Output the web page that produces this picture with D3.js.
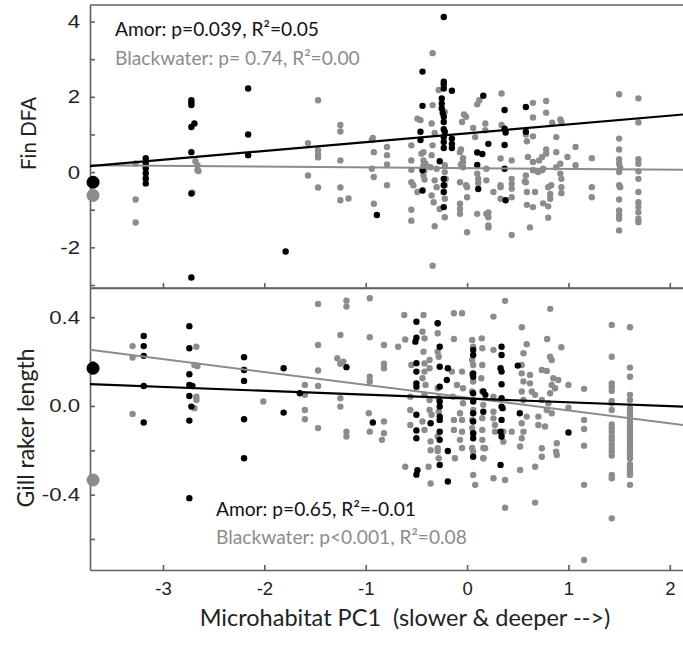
<!DOCTYPE html>
<html>
<head>
<meta charset="utf-8">
<script src="https://cdn.jsdelivr.net/npm/d3@7"></script>
<style>
  body { margin: 0; background: #fff; }
  svg { display: block; }
  .axis path, .axis line { stroke: #606060; stroke-width: 1.6; }
  .axis text { font-family: "Liberation Sans", Arial, sans-serif; font-size: 18.5px; fill: #222; }
  .lbl { font-family: Lato, "Open Sans", sans-serif; }
</style>
</head>
<body>
<div id="chart"></div>
<script>
// ---------------- DATA

var xTicks = [-3, -2, -1, 0, 1, 2];
var finTicks = [-3, -2, -1, 0, 1, 2, 3, 4];
var finLabels = [-2, 0, 2, 4];
var gillTicks = [-0.6, -0.4, -0.2, 0, 0.2, 0.4];
var gillLabels = [-0.4, 0, 0.4];

// regression lines: value at left edge and right edge of the x range
var fitX = [-3.72, 2.13];
var finAmorFit = [0.16, 1.53];
var finBlackFit = [0.18, 0.06];
var gillAmorFit = [0.098, -0.003];
var gillBlackFit = [0.253, -0.086];

// population means drawn at left edge (Amor, Blackwater)
var meanX = -3.69;
var finMeans = [-0.27, -0.62];
var gillMeans = [0.17, -0.334];

// Fin DFA, Amor
var finAmor = [
[-3.17,0.37],[-3.17,0.23],[-3.17,0.10],[-3.17,-0.03],[-3.17,-0.17],[-3.17,-0.30],
[-2.72,1.91],[-2.72,1.84],[-2.72,1.78],[-2.69,1.29],[-2.72,1.20],[-2.72,0.53],[-2.72,-0.57],[-2.72,-2.80],
[-2.16,2.22],[-2.16,1.00],[-2.16,0.45],
[-1.79,-2.11],[-0.89,-1.14],
[-0.44,2.67],[-0.44,1.76],[-0.46,1.07],[-0.46,0.85],[-0.44,0.05],[-0.44,-0.49],
[-0.23,4.12],[-0.23,2.40],[-0.23,2.33],[-0.23,2.22],[-0.25,1.96],[-0.25,1.82],[-0.25,1.69],[-0.24,1.57],
[-0.23,1.47],[-0.23,1.33],[-0.23,1.14],[-0.22,1.07],[-0.23,0.93],[-0.23,0.80],[-0.23,0.64],[-0.27,0.29],
[-0.23,-0.18],[-0.23,-0.35],[-0.23,-0.53],[-0.23,-0.93],
[-0.15,2.16],[-0.15,0.89],[-0.15,0.75],[-0.15,0.64],
[0.16,2.03],[0.10,0.52],[0.15,0.48],[0.10,0.19],[0.11,-0.45],[0.21,0.75],
[0.37,1.65],[0.37,1.15],[0.38,1.05],[0.37,0.72],[0.37,0.09],[0.38,-0.75],
[0.58,1.73],[0.58,1.07]
];

// Fin DFA, Blackwater
var finBlack = [
[-3.27,0.23],[-3.27,-0.73],[-3.27,-1.34],
[-2.68,0.29],[-2.66,0.18],[-2.66,0.05],[-2.65,0.03],[-2.71,-0.55],
[-1.57,0.77],[-1.57,-0.09],
[-1.47,1.91],[-1.47,0.58],[-1.47,0.47],[-1.47,0.39],[-1.47,-0.41],
[-1.25,1.25],[-1.25,1.08],[-1.25,0.31],[-1.25,-0.41],[-1.25,-0.75],[-1.17,-0.70],
[-0.93,0.91],[-0.94,0.85],[-0.92,0.53],[-0.94,0.09],[-0.92,-0.13],[-0.92,-0.84],
[-0.79,0.67],[-0.79,0.45],[-0.79,0.20],[-0.79,-0.35],
[-0.55,0.71],[-0.55,0.31],[-0.55,0.06],[-0.55,-0.27],[-0.53,-0.35],[-0.55,-1.00],[-0.55,-1.29],
[-0.49,1.42],[-0.46,1.38],[-0.49,-0.53],[-0.45,0.49],
[-0.43,0.53],[-0.43,0.31],[-0.41,0.22],[-0.43,0.18],[-0.42,0.05],[-0.43,-0.09],[-0.42,-0.20],[-0.36,0.13],
[-0.34,3.16],[-0.34,1.78],[-0.35,1.29],[-0.32,1.04],[-0.34,0.71],[-0.35,0.45],[-0.30,0.09],[-0.32,-0.22],
[-0.30,-0.40],[-0.35,-0.62],[-0.33,-0.80],[-0.27,-0.98],[-0.32,-1.44],[-0.34,-2.49],
[-0.28,2.18],
[-0.22,1.60],[-0.22,0.18],[-0.22,0.00],[-0.21,-0.18],[-0.22,-0.35],[-0.22,-0.71],[-0.22,-1.20],
[-0.03,1.53],[-0.01,1.47],[-0.05,1.33],[-0.06,0.60],[-0.07,0.53],[-0.04,0.37],[-0.04,0.27],[-0.06,0.20],
[-0.04,0.13],[-0.07,-0.27],[-0.01,-0.35],[-0.07,-0.84],[-0.07,-0.98],[-0.07,-1.11],[0.00,-0.40],[0.00,-0.67],[0.00,-1.60],
[0.06,1.17],[0.08,0.93],[0.10,1.80],[0.12,1.91],[0.10,-0.04],[0.11,-0.18],[0.11,-0.29],[0.10,-1.11],
[0.19,-1.11],[0.21,-1.42],[0.21,-1.07],[0.21,-1.20],[0.21,-1.47],
[0.18,1.29],[0.18,1.11],[0.34,2.09],[0.34,1.25],[0.33,0.36],[0.44,0.31],
[0.19,0.09],[0.19,-0.22],[0.26,-0.53],[0.33,-0.40],[0.33,-0.71],[0.33,-0.35],
[0.44,-0.18],[0.44,-0.31],[0.44,-0.44],[0.44,-0.67],[0.44,-1.67],
[0.58,1.00],[0.59,0.82],[0.58,-0.09],[0.57,-0.25],[0.60,0.40],[0.58,-0.27],
[0.65,1.84],[0.65,1.45],[0.65,0.95],[0.65,0.27],[0.65,0.05],[0.70,0.00],[0.74,0.05],[0.74,0.40],[0.71,0.31],[0.75,0.09],
[0.78,1.89],[0.78,1.58],[0.78,0.60],[0.78,0.49],[0.84,1.31],[0.92,1.40],[0.93,1.33],
[0.88,0.93],[0.88,0.53],[0.88,0.13],[0.92,0.22],[0.99,0.40],[1.07,0.67],[1.07,0.18],
[0.59,-0.53],[0.59,-0.87],[0.67,-0.53],[0.65,-0.93],[0.62,-1.47],
[0.75,-0.83],[0.80,-0.91],[0.80,-1.21],[0.80,-0.40],[0.82,-0.58],[0.82,-0.71],
[0.83,-0.35],[0.92,-0.04],[0.93,-0.18],[0.93,-0.40],[0.93,-0.56],
[1.23,0.37],[1.23,-0.40],[1.23,-0.67],
[1.50,2.07],[1.50,0.89],[1.50,0.60],[1.50,0.34],[1.50,0.22],[1.51,0.12],[1.50,0.00],[1.50,-0.35],
[1.51,-0.40],[1.50,-0.73],[1.50,-1.02],[1.50,-1.14],[1.50,-1.24],[1.50,-1.55],
[1.69,1.96],[1.69,1.32],[1.69,0.34],[1.69,0.22],[1.69,0.02],[1.69,-0.18],[1.69,-0.53],[1.69,-0.80],
[1.69,-0.93],[1.69,-1.07],[1.69,-1.24],[1.69,-1.33]
];

// Gill raker length, Amor
var gillAmor = [
[-3.19,0.316],[-3.19,0.27],[-3.19,0.226],[-3.19,0.09],[-3.19,-0.075],
[-2.74,0.36],[-2.74,0.26],[-2.74,0.143],[-2.74,0.095],[-2.71,0.09],[-2.74,0.045],[-2.72,-0.003],[-2.74,-0.066],[-2.74,-0.416],
[-2.2,0.22],[-2.2,0.162],[-2.2,0.113],[-2.2,-0.06],[-2.2,-0.236],
[-1.81,0.17],[-1.81,-0.03],[-1.65,0.057],[-1.19,0.175],[-0.93,-0.075],
[-0.5,0.38],[-0.5,0.308],[-0.51,0.29],[-0.5,0.193],[-0.5,0.155],[-0.5,0.102],[-0.5,0.087],[-0.36,-0.078],
[-0.5,-0.04],[-0.5,-0.111],[-0.5,-0.146],[-0.49,-0.29],[-0.5,-0.31],
[-0.29,0.373],[-0.27,0.267],[-0.27,0.177],[-0.27,0.087],[-0.27,0.02],[-0.27,-0.003],[-0.27,-0.048],[-0.27,-0.063],
[-0.27,-0.116],[-0.27,-0.153],[-0.27,-0.266],
[-0.19,0.17],[-0.2,0.117],[-0.19,-0.203],[-0.19,-0.341],
[0.06,0.253],[0.06,0.23],[0.06,0.147],[0.06,0.132],[0.06,0.057],[0.06,0.02],[0.06,-0.033],[0.06,-0.07],
[0.06,-0.123],[0.06,-0.146],[0.06,-0.229],
[0.18,0.05],[0.16,0.065],[0.16,-0.026],
[0.34,0.267],[0.34,0.23],[0.33,0.17],[0.34,0.155],[0.34,0.098],[0.34,0.035],[0.34,-0.003],[0.35,-0.01],
[0.34,-0.063],[0.33,-0.116],[0.34,-0.138],[0.33,-0.266],
[0.5,0.182],[0.52,-0.033],[1.0,-0.12]
];

// Gill raker length, Blackwater
var gillBlack = [
[-3.3,0.27],[-3.3,0.218],[-3.3,-0.036],
[-2.67,0.267],[-2.69,0.185],[-2.66,0.18],[-2.67,0.042],[-2.67,0.027],[-2.69,-0.01],
[-2.2,0.162],[-2.01,0.02],
[-1.6,0.095],[-1.6,0.05],[-1.6,-0.018],[-1.6,-0.06],
[-1.47,0.46],[-1.47,0.275],[-1.47,0.16],[-1.47,0.09],[-1.47,-0.1],
[-1.25,0.32],[-1.28,0.215],[-1.25,0.19],[-1.22,0.2],[-1.25,0.035],[-1.25,-0.003],
[-1.19,0.475],[-1.19,0.448],[-1.19,-0.116],[-1.19,-0.138],
[-0.96,0.486],[-0.96,0.31],[-0.96,0.132],[-0.96,0.11],[-0.97,-0.033],[-0.96,-0.116],
[-0.82,0.275],[-0.82,0.19],[-0.82,0.17],[-0.82,-0.07],[-0.82,-0.123],[-0.84,-0.153],
[-0.68,0.267],[-0.61,0.3],[-0.62,0.41],[-0.61,-0.274],
[-0.55,0.185],[-0.56,0.042],[-0.56,-0.018],[-0.56,-0.086],
[-0.43,0.41],[-0.44,0.335],[-0.42,0.305],[-0.43,0.245],[-0.37,0.207],[-0.42,0.192],[-0.42,0.155],[-0.37,0.17],
[-0.44,0.125],[-0.41,0.095],[-0.42,0.05],[-0.37,0.027],[-0.37,-0.018],[-0.35,-0.04],[-0.44,-0.07],[-0.42,-0.108],
[-0.36,-0.16],[-0.36,-0.2],[-0.38,-0.274],[-0.36,-0.35],
[-0.29,0.373],[-0.29,0.328],[-0.29,0.245],[-0.28,0.222],[-0.29,0.08],[-0.28,0.035],[-0.28,-0.026],
[-0.29,-0.138],[-0.29,-0.191],[-0.29,-0.203],[-0.28,-0.236],
[-0.13,0.418],[-0.05,0.418],
[-0.13,0.302],[-0.15,0.155],[-0.1,0.095],[-0.14,0.042],[-0.13,-0.063],[-0.13,-0.108],[-0.07,-0.153],[-0.12,-0.236],
[-0.05,0.155],[-0.04,0.08],[-0.04,0.012],[-0.07,-0.033],[-0.05,-0.063],[-0.05,-0.116],[-0.05,-0.19],
[0.05,0.298],[0.06,0.267],[0.05,0.207],[0.06,0.185],[0.05,0.143],[0.06,0.11],[0.05,0.065],[0.06,0.027],
[0.06,-0.018],[0.05,-0.063],[0.05,-0.1],[0.06,-0.123],[0.05,-0.19],[0.06,-0.206],[0.06,-0.311],[0.08,-0.356],
[0.145,0.305],[0.15,0.26],[0.15,0.185],[0.14,0.125],[0.15,0.065],[0.16,0.005],[0.15,-0.055],[0.15,-0.108],
[0.15,-0.153],[0.16,-0.19],[0.16,-0.236],
[0.375,0.474],[0.26,0.403],[0.82,0.438],[0.54,0.355],[0.79,0.302],[0.93,0.265],
[0.556,0.238],[0.588,0.278],[0.539,0.185],[0.539,0.147],[0.621,0.14],[0.556,0.11],[0.621,0.102],[0.539,0.065],
[0.638,0.065],[0.671,0.05],[0.556,0.027],[0.737,0.162],[0.786,0.158],[0.835,0.207],[0.819,0.222],[0.851,0.125],
[0.9,0.117],[0.835,0.095],[0.868,0.08],[0.819,0.057],[0.737,0.027],[0.802,0.012],[0.786,-0.018],[0.835,-0.033],
[0.703,-0.048],[0.588,-0.048],[0.539,-0.078],[0.556,-0.116],[0.539,-0.146],[0.703,-0.086],[0.769,-0.093],
[0.523,-0.183],[0.737,-0.191],[0.737,-0.229],[0.885,-0.168],[0.878,-0.206],[0.885,-0.221],[0.523,-0.289],
[0.671,-0.274],[0.375,-0.334],[0.26,-0.326],[0.375,-0.459],[0.671,-0.436],
[0.26,0.253],[0.26,0.042],[0.26,-0.026],[0.26,-0.056],[0.275,-0.086],[0.275,-0.116],[0.178,-0.191],
[0.161,-0.236],[0.358,-0.161],[0.358,-0.116],[0.44,-0.116],
[1.0,0.095],[1.0,-0.008],[1.154,0.077],[1.154,-0.063],[1.154,-0.104],[1.154,-0.179],[1.154,-0.356],[1.154,-0.695],
[1.427,0.365],[1.427,0.222],[1.427,0.102],[1.427,0.087],[1.427,0.068],[1.427,0.023],[1.427,0.012],[1.427,-0.018],
[1.427,-0.083],[1.427,-0.098],[1.427,-0.116],[1.427,-0.138],[1.427,-0.153],[1.427,-0.173],[1.427,-0.191],
[1.427,-0.206],[1.427,-0.224],[1.427,-0.311],[1.427,-0.326],[1.427,-0.507],
[1.607,0.355],[1.607,0.173],[1.607,0.132],[1.607,0.05],[1.607,0.027],[1.607,-0.01],[1.607,-0.026],[1.607,-0.041],
[1.607,-0.055],[1.607,-0.071],[1.607,-0.086],[1.607,-0.101],[1.607,-0.116],[1.607,-0.131],[1.607,-0.146],
[1.607,-0.161],[1.607,-0.176],[1.607,-0.191],[1.607,-0.206],[1.607,-0.221],[1.607,-0.236],[1.607,-0.263],
[1.607,-0.281],[1.607,-0.296],[1.607,-0.311],[1.607,-0.356]
];

// ---------------- LAYOUT

var W = 683, H = 645;
var left = 90, right = 683;
var topPanel = {y0: 5, y1: 288};
var botPanel = {y0: 288, y1: 570};
var blackCol = "#000000", greyCol = "#8c8c8c";
var yLabelStretch = 1.2;   // y tick labels are wider in the original

var svg = d3.select("#chart").append("svg")
    .attr("width", W)
    .attr("height", H);

var x = d3.scaleLinear().domain([-3.72, 2.13]).range([left, right]);
var yFin = d3.scaleLinear().domain([-3.08, 4.44]).range([topPanel.y1, topPanel.y0]);
var yGill = d3.scaleLinear().domain([-0.74, 0.532]).range([botPanel.y1, botPanel.y0]);

// plain hyphen minus, like the original
function fmtInt(d){ return String(d); }
function fmtOne(d){ return d.toFixed(1); }

function drawPanel(y, p, yTicks, yLabels, fmt, amor, black, amorFit, blackFit, means, showX) {
  var g = svg.append("g");

  // axes, ticks pointing inward
  var yAxis = d3.axisLeft(y)
      .tickValues(yTicks)
      .tickSize(-5)
      .tickSizeOuter(0)
      .tickPadding(10)
      .tickFormat(function(d){
        var lab = yLabels.some(function(v){ return Math.abs(v - d) < 1e-9; });
        return lab ? fmt(Math.abs(d) < 1e-9 ? 0 : d) : "";
      });
  var ya = g.append("g").attr("class", "axis")
      .attr("transform", "translate(" + left + ",0)")
      .call(yAxis);
  ya.selectAll(".tick text")
      .attr("x", -10 / yLabelStretch)
      .attr("transform", "scale(" + yLabelStretch + ",1)");

  var xAxis = d3.axisBottom(x)
      .tickValues(xTicks)
      .tickSize(-5)
      .tickSizeOuter(0)
      .tickPadding(12)
      .tickFormat(showX ? fmtInt : function(){ return ""; });
  g.append("g").attr("class", "axis")
      .attr("transform", "translate(0," + p.y1 + ")")
      .call(xAxis);

  // top frame line
  g.append("line")
      .attr("x1", left).attr("x2", right)
      .attr("y1", p.y0).attr("y2", p.y0)
      .attr("stroke", "#606060").attr("stroke-width", 1.6);

  // points
  g.selectAll("circle.bw").data(black).enter().append("circle")
      .attr("class", "bw")
      .attr("cx", function(d){ return x(d[0]); })
      .attr("cy", function(d){ return y(d[1]); })
      .attr("r", 3.2)
      .attr("fill", greyCol);
  g.selectAll("circle.am").data(amor).enter().append("circle")
      .attr("class", "am")
      .attr("cx", function(d){ return x(d[0]); })
      .attr("cy", function(d){ return y(d[1]); })
      .attr("r", 3.2)
      .attr("fill", blackCol);

  // regression lines
  var line = d3.line()
      .x(function(d){ return x(d[0]); })
      .y(function(d){ return y(d[1]); });
  g.append("path")
      .attr("d", line(fitX.map(function(v, i){ return [v, blackFit[i]]; })))
      .attr("fill", "none").attr("stroke", greyCol).attr("stroke-width", 2);
  g.append("path")
      .attr("d", line(fitX.map(function(v, i){ return [v, amorFit[i]]; })))
      .attr("fill", "none").attr("stroke", blackCol).attr("stroke-width", 2.2);

  // means at the left edge
  g.selectAll("circle.mean").data(means).enter().append("circle")
      .attr("class", "mean")
      .attr("cx", x(meanX))
      .attr("cy", function(d){ return y(d); })
      .attr("r", 6.5)
      .attr("fill", function(d, i){ return i === 0 ? blackCol : greyCol; });
  return g;
}

drawPanel(yFin, topPanel, finTicks, finLabels, fmtInt, finAmor, finBlack, finAmorFit, finBlackFit, finMeans, false);
drawPanel(yGill, botPanel, gillTicks, gillLabels, fmtOne, gillAmor, gillBlack, gillAmorFit, gillBlackFit, gillMeans, true);

// ---------------- TEXT

function addText(txt, tx, ty, size, color, rot, anchor) {
  var t = svg.append("text")
      .attr("class", "lbl")
      .attr("transform", "translate(" + tx + "," + ty + ")" + (rot ? " rotate(" + rot + ")" : ""))
      .attr("text-anchor", anchor || "start")
      .style("font-size", size + "px")
      .style("white-space", "pre")
      .attr("fill", color)
      .text(txt);
  return t;
}

addText("Amor: p=0.039, R\u00B2=0.05", 115, 36, 19.2, "#111");
addText("Blackwater: p= 0.74, R\u00B2=0.00", 115, 65, 19.2, greyCol);
addText("Amor: p=0.65, R\u00B2=-0.01", 216, 516, 19.2, "#111");
addText("Blackwater: p<0.001, R\u00B2=0.08", 216, 544, 19.2, greyCol);

addText("Fin DFA", 36, 133.5, 20.5, "#222", -90, "middle");
addText("Gill raker length", 34, 428, 23, "#222", -90, "middle");
addText("Microhabitat PC1  (slower & deeper -->)", 405, 626, 23.5, "#222", 0, "middle");
</script>
</body>
</html>
